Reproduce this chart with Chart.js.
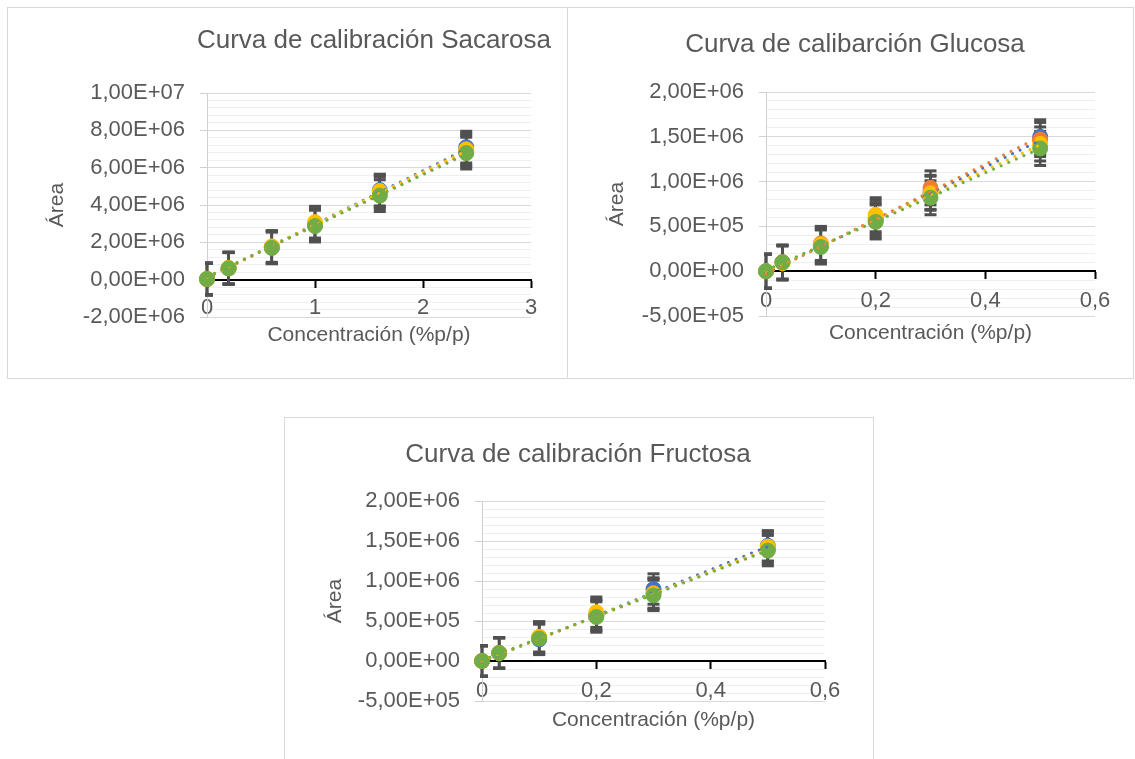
<!DOCTYPE html>
<html>
<head>
<meta charset="utf-8">
<script src="https://cdn.jsdelivr.net/npm/chart.js@4.4.1/dist/chart.umd.min.js"></script>
<style>
    body { margin: 0; background: #fff; width: 1135px; height: 759px; overflow: hidden; position: relative; }
    .box { position: absolute; border: 1px solid #d9d9d9; box-sizing: border-box; background: #fff; }
    canvas { position: absolute; }
</style>
</head>
<body>
<div class="box" style="left:7px;top:7px;width:561px;height:372px"></div>
<div class="box" style="left:567px;top:7px;width:567px;height:372px"></div>
<div class="box" style="left:284px;top:417px;width:590px;height:360px"></div>
<canvas id="sac-chart" width="558" height="370" style="left:8px;top:8px"></canvas>
<canvas id="glu-chart" width="565" height="370" style="left:568px;top:8px"></canvas>
<canvas id="fru-chart" width="588" height="341" style="left:285px;top:418px"></canvas>
<script>
// series order: blue, orange, yellow, green
const SERIES_COLORS = ['#4472c4', '#ed7d31', '#ffc000', '#70ad47'];
const ERRBAR_COLOR = '#505050';
const TEXT_COLOR = '#595959';

// Sacarosa
const sacX = [0, 0.2, 0.6, 1.0, 1.6, 2.4];
const sacBlue = [0.03e6, 0.62e6, 1.75e6, 2.95e6, 4.80e6, 7.10e6];
const sacOrange = [0.02e6, 0.60e6, 1.72e6, 2.92e6, 4.65e6, 6.90e6];
const sacYellow = [0.05e6, 0.63e6, 1.78e6, 3.08e6, 4.75e6, 6.98e6];
const sacGreen = [0.04e6, 0.60e6, 1.70e6, 2.87e6, 4.50e6, 6.78e6];
const sacErr = [0.85e6, 0.85e6, 0.85e6, 0.85e6, 0.85e6, 0.85e6];
const sacTrendStart = [0.10e6, 0.10e6, 0.12e6, 0.15e6];
const sacTrendEnd = [6.98e6, 6.82e6, 6.90e6, 6.72e6];

// Glucosa
const gluX = [0, 0.03, 0.1, 0.2, 0.3, 0.5];
const gluBlue = [0, 0.10e6, 0.28e6, 0.57e6, 0.88e6, 1.50e6];
const gluOrange = [0, 0.10e6, 0.31e6, 0.60e6, 0.93e6, 1.47e6];
const gluYellow = [0, 0.09e6, 0.30e6, 0.63e6, 0.87e6, 1.42e6];
const gluGreen = [0, 0.10e6, 0.27e6, 0.55e6, 0.82e6, 1.37e6];
const gluErr = [0.19e6, 0.19e6, 0.19e6, 0.19e6, 0.19e6, 0.19e6];
const gluTrendStart = [-0.02e6, -0.03e6, 0, 0.01e6];
const gluTrendEnd = [1.46e6, 1.50e6, 1.41e6, 1.37e6];

// Fructosa
const fruX = [0, 0.03, 0.1, 0.2, 0.3, 0.5];
const fruBlue = [0, 0.10e6, 0.27e6, 0.57e6, 0.90e6, 1.44e6];
const fruOrange = [0, 0.10e6, 0.30e6, 0.58e6, 0.85e6, 1.40e6];
const fruYellow = [0, 0.10e6, 0.30e6, 0.61e6, 0.84e6, 1.43e6];
const fruGreen = [0, 0.10e6, 0.28e6, 0.55e6, 0.82e6, 1.38e6];
const fruErr = [0.19e6, 0.19e6, 0.19e6, 0.19e6, 0.19e6, 0.19e6];
const fruTrendStart = [-0.01e6, 0, 0, 0.01e6];
const fruTrendEnd = [1.43e6, 1.39e6, 1.40e6, 1.38e6];

const Y_TITLE = 'Área';
const X_TITLE = 'Concentración (%p/p)';

Chart.defaults.font.family = "'Liberation Sans', Arial, sans-serif";
Chart.defaults.color = TEXT_COLOR;

function sciLabel(v) {
    const [m, e] = Number(v).toExponential(2).split('e');
    const n = parseInt(e, 10);
    return m.replace('.', ',') + 'E' + (n < 0 ? '-' : '+') + String(Math.abs(n)).padStart(2, '0');
}

function decLabel(v) {
    return String(+Number(v).toFixed(1)).replace('.', ',');
}

function buildDatasets(xs, series, errs, trendStart, trendEnd) {
    const sets = [];
    const xEnd = xs[xs.length - 1];
    series.forEach((ys, i) => {
        const color = SERIES_COLORS[i];
        // error bars: pairs of points split by a gap
        const bars = [];
        ys.forEach((y, j) => {
            bars.push({ x: xs[j], y: y - errs[j] }, { x: xs[j], y: y + errs[j] }, { x: xs[j], y: null });
        });
        sets.push({
            data: bars,
            showLine: true,
            spanGaps: false,
            borderColor: ERRBAR_COLOR,
            borderWidth: 2.5,
            pointStyle: 'line',
            pointRadius: 6,
            pointBorderWidth: 3,
            pointBorderColor: ERRBAR_COLOR,
            clip: { left: 2, top: false, right: false, bottom: false },
            order: 33 - i
        });
        sets.push({
            data: ys.map((y, j) => ({ x: xs[j], y })),
            showLine: false,
            pointRadius: 7.5,
            pointBorderWidth: 1,
            pointBackgroundColor: color,
            pointBorderColor: color,
            clip: false,
            order: 23 - i
        });
        sets.push({
            data: [{ x: xs[0], y: trendStart[i] }, { x: xEnd, y: trendEnd[i] }],
            showLine: true,
            borderColor: color,
            borderWidth: 3,
            borderDash: [0.1, 8.2],
            borderCapStyle: 'round',
            pointRadius: 0,
            clip: false,
            order: 13 - i
        });
    });
    return sets;
}

function renderChart(id, d, L) {
    const ctx = document.getElementById(id).getContext('2d');
    return new Chart(ctx, {
        type: 'scatter',
        data: { datasets: buildDatasets(d.xs, d.series, d.errs, d.trendStart, d.trendEnd) },
        options: {
            responsive: false,
            animation: false,
            layout: { padding: L.pad },
            plugins: {
                legend: { display: false },
                tooltip: { enabled: false },
                title: {
                    display: true,
                    text: d.title,
                    fullSize: true,
                    align: L.titleAlign,
                    color: TEXT_COLOR,
                    font: { size: 26, weight: 'normal' },
                    padding: { top: 0, bottom: L.titlePadB }
                }
            },
            scales: {
                x: {
                    type: 'linear',
                    position: { y: 0 },
                    min: 0,
                    max: d.xMax,
                    ticks: { stepSize: d.xStep, callback: decLabel, padding: L.xTickPad, font: { size: 22 }, color: TEXT_COLOR, maxRotation: 0, autoSkip: false },
                    grid: { drawOnChartArea: false, drawTicks: true, tickLength: 7, tickColor: '#000', tickWidth: 2 },
                    border: { color: '#000', width: 2 },
                    title: { display: true, text: X_TITLE, font: { size: 21 }, color: TEXT_COLOR, padding: 0 },
                    afterFit: s => { s.height = L.xHeight; }
                },
                y: {
                    type: 'linear',
                    position: 'left',
                    min: d.yMin,
                    max: d.yMax,
                    ticks: { stepSize: d.yStep, callback: sciLabel, padding: 15, font: { size: 22 }, color: TEXT_COLOR },
                    grid: { color: '#d9d9d9', tickLength: 7, tickColor: '#d0d0d0' },
                    border: { color: '#d0d0d0' },
                    title: { display: true, text: Y_TITLE, font: { size: 21 }, color: TEXT_COLOR, padding: { top: L.yTitlePad, bottom: 0 } },
                    afterFit: s => { s.width = L.yWidth; }
                },
                yMinor: {
                    type: 'linear',
                    position: 'right',
                    min: d.yMin,
                    max: d.yMax,
                    ticks: { display: false, stepSize: d.yStep / 5, maxTicksLimit: 1000 },
                    grid: { color: '#efefef', drawTicks: false, z: -2 },
                    border: { display: false },
                    afterFit: s => { s.width = L.minorWidth; }
                }
            }
        }
    });
}

renderChart('sac-chart', {
    title: 'Curva de calibración Sacarosa',
    xs: sacX, series: [sacBlue, sacOrange, sacYellow, sacGreen], errs: sacErr,
    trendStart: sacTrendStart, trendEnd: sacTrendEnd,
    xMax: 3, xStep: 1, yMin: -2e6, yMax: 1e7, yStep: 2e6
}, {
    pad: { left: 36.4, right: 15, top: 17.4, bottom: 61 },
    titleAlign: 'end', titlePadB: 36.4, yWidth: 162.6, yTitlePad: 0, minorWidth: 20, xTickPad: 8.4, xHeight: 68.6
});

renderChart('glu-chart', {
    title: 'Curva de calibarción Glucosa',
    xs: gluX, series: [gluBlue, gluOrange, gluYellow, gluGreen], errs: gluErr,
    trendStart: gluTrendStart, trendEnd: gluTrendEnd,
    xMax: 0.6, xStep: 0.2, yMin: -5e5, yMax: 2e6, yStep: 5e5
}, {
    pad: { left: 47, right: 38, top: 21.4, bottom: 62 },
    titleAlign: 'center', titlePadB: 31.4, yWidth: 151, yTitlePad: -10.6, minorWidth: 0, xTickPad: 9.4, xHeight: 74.6
});

renderChart('fru-chart', {
    title: 'Curva de calibración Fructosa',
    xs: fruX, series: [fruBlue, fruOrange, fruYellow, fruGreen], errs: fruErr,
    trendStart: fruTrendStart, trendEnd: fruTrendEnd,
    xMax: 0.6, xStep: 0.2, yMin: -5e5, yMax: 2e6, yStep: 5e5
}, {
    pad: { left: 46, right: 48, top: 21.4, bottom: 58 },
    titleAlign: 'center', titlePadB: 30.4, yWidth: 151, yTitlePad: -8.6, minorWidth: 0, xTickPad: 9.4, xHeight: 71.6
});
</script>
</body>
</html>
